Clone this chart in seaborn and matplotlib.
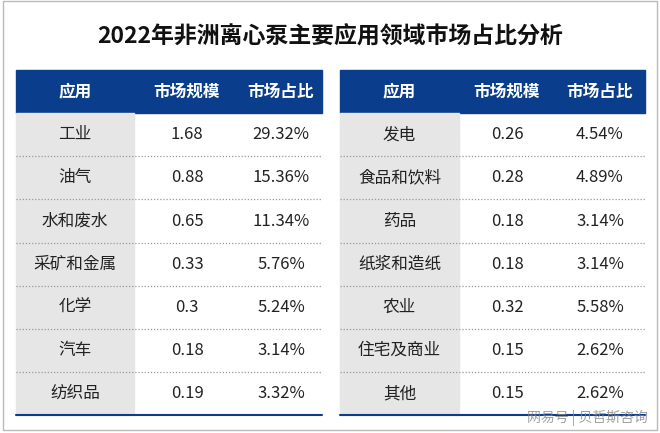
import matplotlib
matplotlib.use("Agg")
import matplotlib.pyplot as plt
import seaborn as sns
from matplotlib.patches import Rectangle

sns.set_theme(style="white")
plt.rcParams["font.family"] = "sans-serif"
plt.rcParams["font.sans-serif"] = ["Noto Sans CJK SC", "Noto Sans CJK JP", "DejaVu Sans"]

title = "2022年非洲离心泵主要应用领域市场占比分析"
headers = ["应用", "市场规模", "市场占比"]
left_apps = ["工业", "油气", "水和废水", "采矿和金属", "化学", "汽车", "纺织品"]
left_size = ["1.68", "0.88", "0.65", "0.33", "0.3", "0.18", "0.19"]
left_share = ["29.32%", "15.36%", "11.34%", "5.76%", "5.24%", "3.14%", "3.32%"]
right_apps = ["发电", "食品和饮料", "药品", "纸浆和造纸", "农业", "住宅及商业", "其他"]
right_size = ["0.26", "0.28", "0.18", "0.18", "0.32", "0.15", "0.15"]
right_share = ["4.54%", "4.89%", "3.14%", "3.14%", "5.58%", "2.62%", "2.62%"]

W, H = 660, 433
fig = plt.figure(figsize=(6.6, 4.33), dpi=100)
ax = fig.add_axes([0, 0, 1, 1])
ax.set_xlim(0, W)
ax.set_ylim(H, 0)
ax.axis("off")

blue = "#0a3d8c"
ax.add_patch(Rectangle((3, 1), 654, 429, fill=False, ec="#bbbbbb", lw=1))
ax.text(W / 2, 37, title, ha="center", va="center", fontsize=16.5, fontweight="bold", color="#111111")


def draw_table(x0, cols, apps, sizes, shares):
    top, hh, rh = 70, 43, 43.2
    x_edges = [x0, x0 + cols[0], x0 + cols[0] + cols[1], x0 + sum(cols)]
    ax.add_patch(Rectangle((x0, top), sum(cols), hh, color=blue))
    for j, h in enumerate(headers):
        ax.text((x_edges[j] + x_edges[j + 1]) / 2, top + hh / 2, h, ha="center", va="center",
                fontsize=12, fontweight="bold", color="white")
    n = len(apps)
    y0 = top + hh
    ax.add_patch(Rectangle((x0, y0), cols[0], rh * n, color="#e6e6e6"))
    for i in range(n):
        yc = y0 + rh * (i + 0.5)
        for j, v in enumerate([apps[i], sizes[i], shares[i]]):
            ax.text((x_edges[j] + x_edges[j + 1]) / 2, yc, v, ha="center", va="center",
                    fontsize=12, color="#222222")
        if i < n - 1:
            yl = y0 + rh * (i + 1)
            ax.plot([x0, x_edges[-1]], [yl, yl], ls=(0, (1, 1.5)), color="#999999", lw=0.9)
    ax.plot([x0, x_edges[-1]], [y0 + rh * n] * 2, color=blue, lw=1.5)


draw_table(16, [118, 106, 82], left_apps, left_size, left_share)
draw_table(340, [119, 96, 90], right_apps, right_size, right_share)

ax.text(648, 418, "网易号 | 贝哲斯咨询", ha="right", va="center", fontsize=10, color="#888888", alpha=0.8)

fig.savefig("out.png", dpi=100)
